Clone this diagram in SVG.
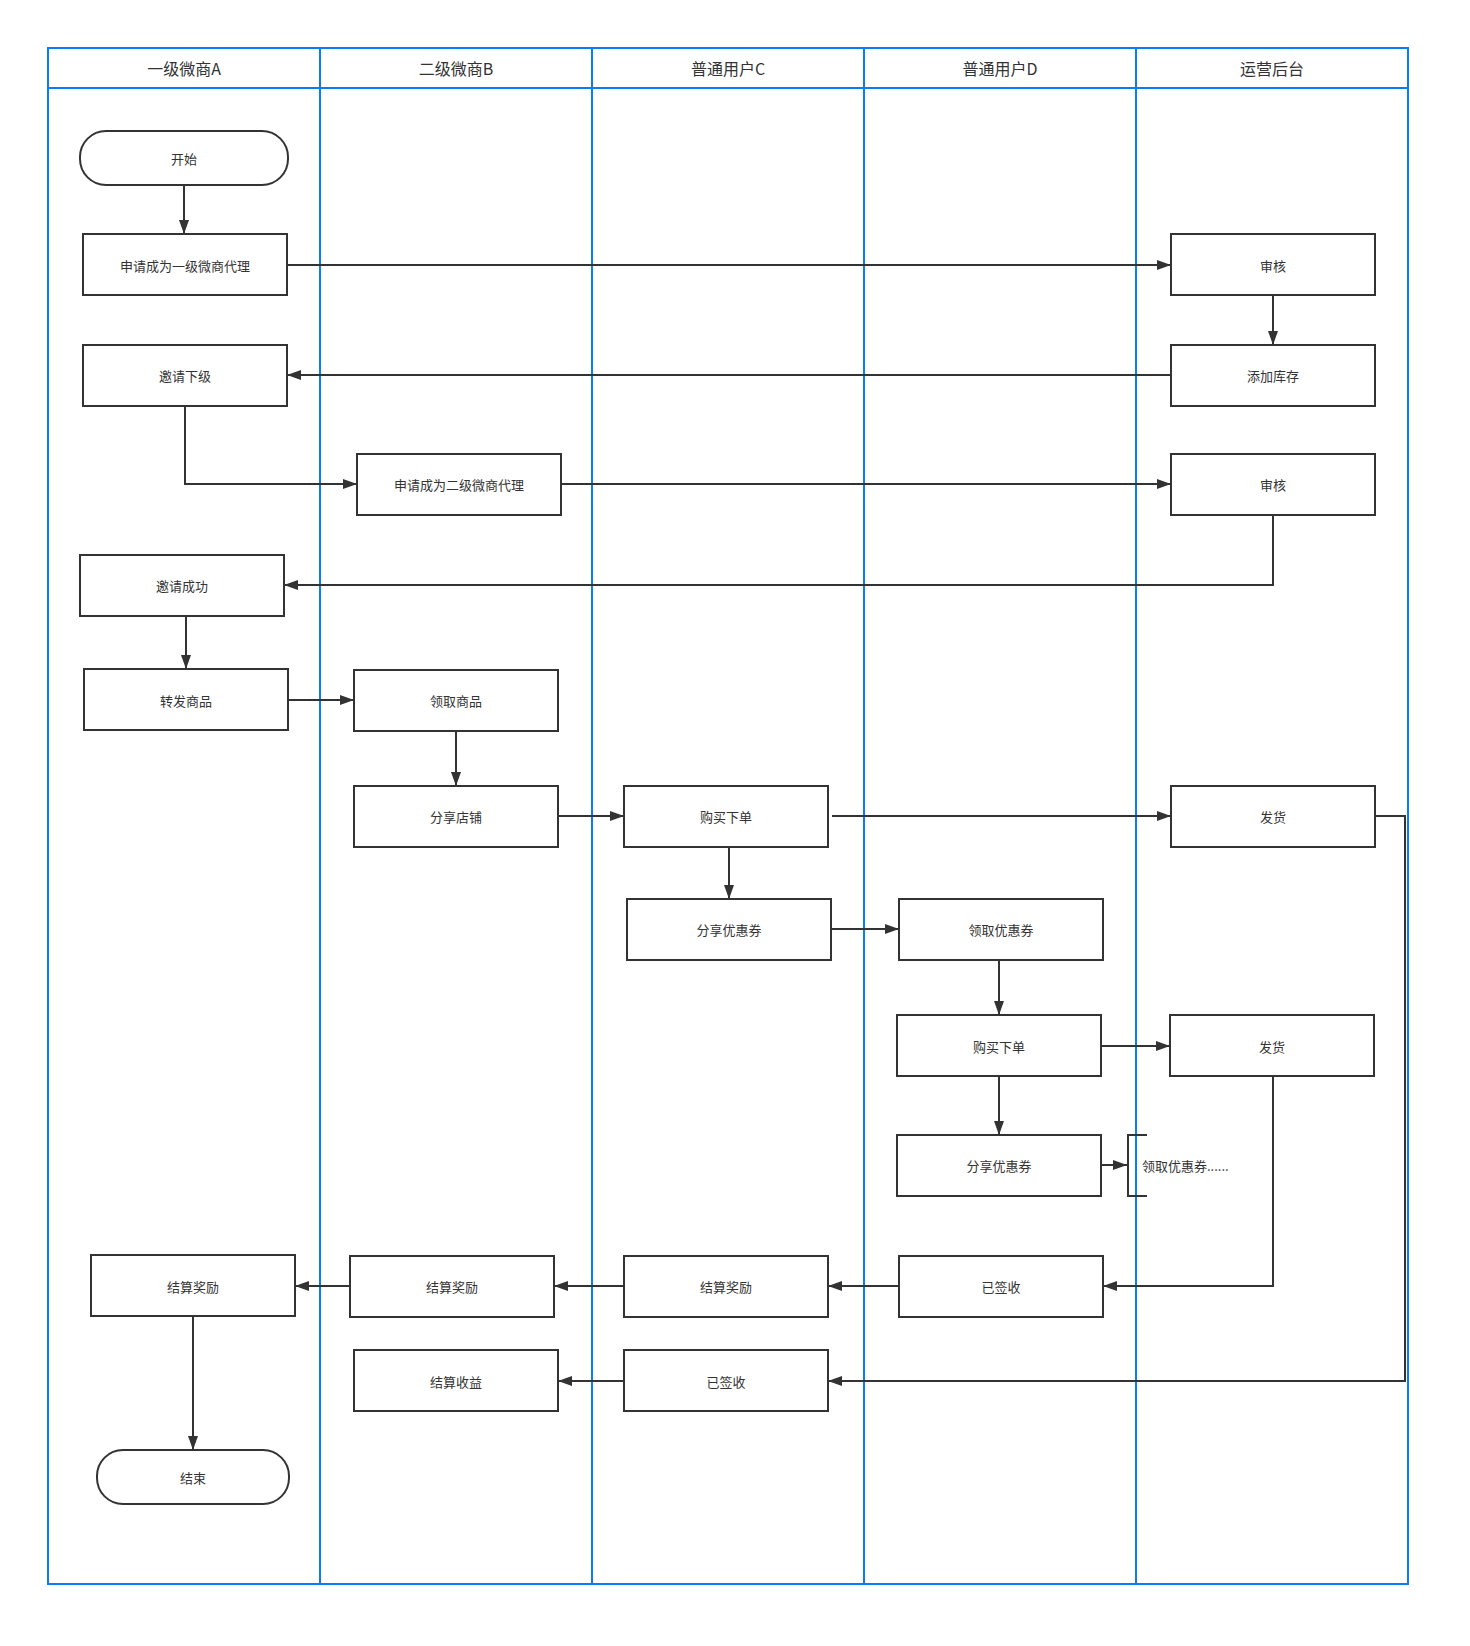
<svg xmlns="http://www.w3.org/2000/svg" width="1470" height="1646" viewBox="0 0 1470 1646">
<style>
.lane{fill:none;stroke:#0a7aff;stroke-width:2}
.hd{font-family:"Noto Sans CJK SC","Noto Sans",sans-serif;font-size:16px;fill:#333;text-anchor:middle;dominant-baseline:central}
.box{fill:#fff;stroke:#333;stroke-width:2}
.t{font-family:"Noto Sans CJK SC","Noto Sans",sans-serif;font-size:13px;fill:#333;text-anchor:middle;dominant-baseline:central}
.c{fill:none;stroke:#333;stroke-width:2;marker-end:url(#ah)}
</style>
<defs>
<marker id="ah" markerUnits="userSpaceOnUse" markerWidth="14" markerHeight="10" refX="14" refY="5" orient="auto">
<path d="M0,0 L14,5 L0,10 z" fill="#333"/>
</marker>
</defs>
<rect width="1470" height="1646" fill="#fff"/>
<g id="lanes">
<rect class="lane" x="48" y="48" width="1360" height="1536"/>
<line class="lane" x1="48" y1="88" x2="1408" y2="88"/>
<line class="lane" x1="320" y1="48" x2="320" y2="1584"/>
<line class="lane" x1="592" y1="48" x2="592" y2="1584"/>
<line class="lane" x1="864" y1="48" x2="864" y2="1584"/>
<line class="lane" x1="1136" y1="48" x2="1136" y2="1584"/>
<text class="hd" x="184" y="68">一级微商A</text>
<text class="hd" x="456" y="68">二级微商B</text>
<text class="hd" x="728" y="68">普通用户C</text>
<text class="hd" x="1000" y="68">普通用户D</text>
<text class="hd" x="1272" y="68">运营后台</text>
</g>
<g id="connectors">
<path class="c" d="M184,186 V234"/>
<path class="c" d="M287,265 H1171"/>
<path class="c" d="M1273,295 V345"/>
<path class="c" d="M1171,375 H287"/>
<path class="c" d="M185,406 V484 H357"/>
<path class="c" d="M561,484 H1171"/>
<path class="c" d="M1273,515 V585 H284"/>
<path class="c" d="M186,616 V669"/>
<path class="c" d="M288,700 H354"/>
<path class="c" d="M456,731 V786"/>
<path class="c" d="M558,816 H624"/>
<path class="c" d="M832,816 H1171"/>
<path class="c" d="M729,847 V899"/>
<path class="c" d="M831,929 H899"/>
<path class="c" d="M999,960 V1015"/>
<path class="c" d="M1101,1046 H1170"/>
<path class="c" d="M999,1076 V1135"/>
<path class="c" d="M1101,1165 H1127"/>
<path class="c" d="M1273,1076 V1286 H1103"/>
<path class="c" d="M1375,816 H1405 V1381 H828"/>
<path class="c" d="M899,1286 H828"/>
<path class="c" d="M624,1286 H554"/>
<path class="c" d="M350,1286 H295"/>
<path class="c" d="M624,1381 H558"/>
<path class="c" d="M193,1316 V1450"/>
</g>
<g id="n-start"><rect class="box" x="80" y="131" width="208" height="54" rx="26"/><text class="t" x="184" y="158">开始</text></g>
<g id="n-apply1"><rect class="box" x="83" y="234" width="204" height="61"/><text class="t" x="185" y="265">申请成为一级微商代理</text></g>
<g id="n-audit1"><rect class="box" x="1171" y="234" width="204" height="61"/><text class="t" x="1273" y="265">审核</text></g>
<g id="n-stock"><rect class="box" x="1171" y="345" width="204" height="61"/><text class="t" x="1273" y="375">添加库存</text></g>
<g id="n-invite"><rect class="box" x="83" y="345" width="204" height="61"/><text class="t" x="185" y="375">邀请下级</text></g>
<g id="n-apply2"><rect class="box" x="357" y="454" width="204" height="61"/><text class="t" x="459" y="484">申请成为二级微商代理</text></g>
<g id="n-audit2"><rect class="box" x="1171" y="454" width="204" height="61"/><text class="t" x="1273" y="484">审核</text></g>
<g id="n-invok"><rect class="box" x="80" y="555" width="204" height="61"/><text class="t" x="182" y="585">邀请成功</text></g>
<g id="n-fwd"><rect class="box" x="84" y="669" width="204" height="61"/><text class="t" x="186" y="700">转发商品</text></g>
<g id="n-take"><rect class="box" x="354" y="670" width="204" height="61"/><text class="t" x="456" y="700">领取商品</text></g>
<g id="n-shop"><rect class="box" x="354" y="786" width="204" height="61"/><text class="t" x="456" y="816">分享店铺</text></g>
<g id="n-buyc"><rect class="box" x="624" y="786" width="204" height="61"/><text class="t" x="726" y="816">购买下单</text></g>
<g id="n-ship1"><rect class="box" x="1171" y="786" width="204" height="61"/><text class="t" x="1273" y="816">发货</text></g>
<g id="n-sharec"><rect class="box" x="627" y="899" width="204" height="61"/><text class="t" x="729" y="929">分享优惠券</text></g>
<g id="n-getd"><rect class="box" x="899" y="899" width="204" height="61"/><text class="t" x="1001" y="929">领取优惠券</text></g>
<g id="n-buyd"><rect class="box" x="897" y="1015" width="204" height="61"/><text class="t" x="999" y="1046">购买下单</text></g>
<g id="n-ship2"><rect class="box" x="1170" y="1015" width="204" height="61"/><text class="t" x="1272" y="1046">发货</text></g>
<g id="n-shared"><rect class="box" x="897" y="1135" width="204" height="61"/><text class="t" x="999" y="1165">分享优惠券</text></g>
<g id="n-note"><path d="M1147,1135 H1128 V1196 H1147" fill="none" stroke="#333" stroke-width="2"/><text class="t" x="1142" y="1165" style="text-anchor:start">领取优惠券......</text></g>
<g id="n-rewa"><rect class="box" x="91" y="1255" width="204" height="61"/><text class="t" x="193" y="1286">结算奖励</text></g>
<g id="n-rewb"><rect class="box" x="350" y="1256" width="204" height="61"/><text class="t" x="452" y="1286">结算奖励</text></g>
<g id="n-rewc"><rect class="box" x="624" y="1256" width="204" height="61"/><text class="t" x="726" y="1286">结算奖励</text></g>
<g id="n-signd"><rect class="box" x="899" y="1256" width="204" height="61"/><text class="t" x="1001" y="1286">已签收</text></g>
<g id="n-income"><rect class="box" x="354" y="1350" width="204" height="61"/><text class="t" x="456" y="1381">结算收益</text></g>
<g id="n-signc"><rect class="box" x="624" y="1350" width="204" height="61"/><text class="t" x="726" y="1381">已签收</text></g>
<g id="n-end"><rect class="box" x="97" y="1450" width="192" height="54" rx="26"/><text class="t" x="193" y="1477">结束</text></g>
</svg>
